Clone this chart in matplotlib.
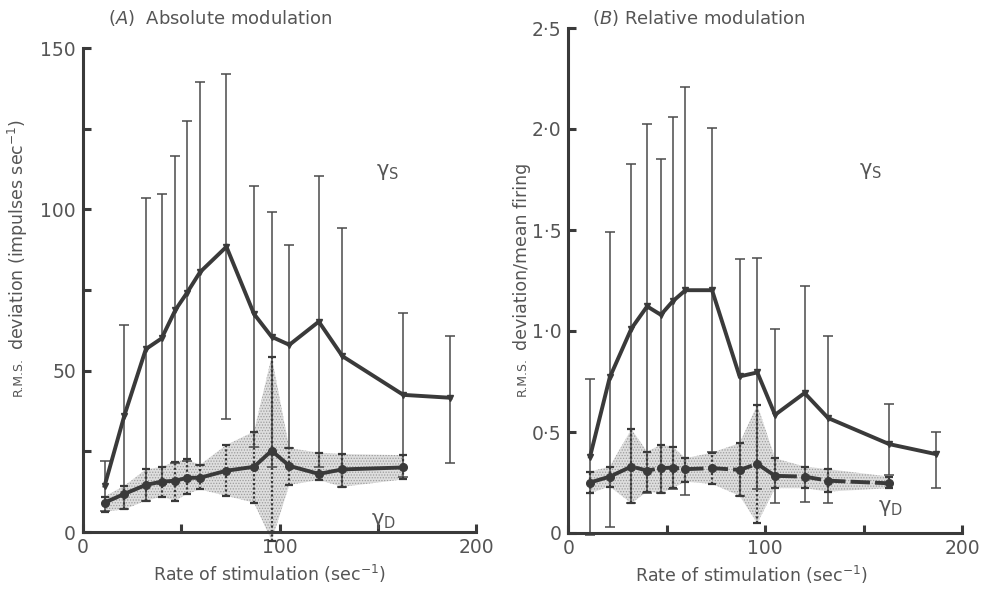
import numpy as np
import matplotlib

matplotlib.use("Agg")
import matplotlib.pyplot as plt
from matplotlib.ticker import FixedLocator

plt.rcParams["font.family"] = ["DejaVu Sans"]
plt.rcParams["mathtext.fontset"] = "dejavusans"
plt.rcParams["hatch.color"] = "#9c9c9c"
plt.rcParams["hatch.linewidth"] = 0.6

# stimulation rates (sec^-1), shared by both panels
rate = [11, 21, 32, 40, 47, 53, 59.5, 73, 87, 96, 105, 120, 132, 163, 187]
rate_d = rate[:14]

# (A) absolute modulation, impulses/sec
abs_s_mean = [14.3, 36, 56.7, 60, 68.8, 74.2, 80.5, 88.4, 67.6, 60.5, 58, 65.2, 54.5, 42.5, 41.6]
abs_s_upper = [22, 64, 103.4, 104.7, 116.6, 127.4, 139.5, 141.8, 107.2, 99.3, 89, 110.3, 94.1, 68, 60.7]
abs_s_lower = [6.6, 7, 9.7, 15, 21.3, 22, 20.8, 35, 26.2, 20.2, 26, 20, 14, 17, 21.5]
abs_d_mean = [9.1, 11.8, 14.6, 15.6, 15.9, 16.8, 16.8, 19, 20.2, 25.2, 20.5, 18, 19.4, 20]
abs_d_upper = [11, 14.3, 19.4, 20.2, 21.8, 22.5, 20.8, 27, 31.1, 54.3, 26, 24.6, 24.2, 23.8]
abs_d_lower = [6.3, 7, 9.7, 10.9, 9.7, 11.8, 13.2, 11.2, 9.1, -2.7, 14.6, 16.1, 14, 16.3]

# (B) relative modulation, r.m.s. deviation / mean firing
rel_s_mean = [0.378, 0.77, 1.012, 1.122, 1.08, 1.147, 1.202, 1.202, 0.775, 0.795, 0.585, 0.693, 0.569, 0.44, 0.39]
rel_s_upper = [0.762, 1.49, 1.829, 2.024, 1.85, 2.057, 2.21, 2.004, 1.354, 1.363, 1.01, 1.222, 0.974, 0.64, 0.50]
rel_s_lower = [-0.01, 0.031, 0.15, 0.20, 0.20, 0.22, 0.19, 0.40, 0.185, 0.217, 0.15, 0.155, 0.147, 0.288, 0.225]
rel_d_mean = [0.25, 0.279, 0.329, 0.309, 0.321, 0.324, 0.316, 0.321, 0.3125, 0.342, 0.283, 0.279, 0.259, 0.246]
rel_d_upper = [0.304, 0.329, 0.514, 0.403, 0.437, 0.428, 0.37, 0.398, 0.445, 0.635, 0.37, 0.329, 0.316, 0.279]
rel_d_lower = [0.197, 0.23, 0.147, 0.205, 0.197, 0.222, 0.254, 0.243, 0.184, 0.048, 0.222, 0.222, 0.205, 0.222]

INK = "#3a3a3a"
TEXT = "#555555"


def draw_panel(axe, s_mean, s_up, s_lo, d_mean, d_up, d_lo, d_dashes):
    """Draw the gamma-S curve with bars and the gamma-D curve with its shaded band."""
    s_mean, s_up, s_lo = map(np.asarray, (s_mean, s_up, s_lo))
    d_mean, d_up, d_lo = map(np.asarray, (d_mean, d_up, d_lo))

    # shaded spread of the gamma-D values
    axe.fill_between(rate_d, d_lo, d_up, facecolor="#dedede", edgecolor="none",
                     hatch="......", zorder=1, clip_on=False)

    # gamma-S: thin bars with caps
    err = axe.errorbar(rate, s_mean, yerr=[s_mean - s_lo, s_up - s_mean], fmt="none",
                       ecolor="#4a4a4a", elinewidth=1.1, capsize=3.5, capthick=1.1, zorder=2)
    for item in err.lines[1] + err.lines[2]:
        item.set_clip_on(False)
    axe.plot(rate, s_mean, color=INK, lw=2.8, marker="v", ms=5, zorder=4,
             solid_joinstyle="miter", clip_on=False)

    # gamma-D: dotted bars, dash caps
    err_d = axe.errorbar(rate_d, d_mean, yerr=[d_mean - d_lo, d_up - d_mean], fmt="none",
                         ecolor="#3a3a3a", elinewidth=1.6, capsize=3, capthick=1.6, zorder=3)
    for col in err_d.lines[2]:
        col.set_linestyle((0, (1, 1)))
        col.set_clip_on(False)
    for cap in err_d.lines[1]:
        cap.set_clip_on(False)
    line, = axe.plot(rate_d, d_mean, color=INK, lw=2.8, marker="o", ms=5.5, zorder=4,
                     clip_on=False)
    if d_dashes:
        line.set_dashes(d_dashes)


def style_axes(axe, ymax, ymajor, yminor, ylabels, xlabel_x):
    """Spines, ticks and tick labels in the journal style."""
    for side in ("top", "right"):
        axe.spines[side].set_visible(False)
    for side in ("left", "bottom"):
        axe.spines[side].set_linewidth(2.2)
        axe.spines[side].set_color(INK)
    axe.set_xlim(0, 200)
    axe.set_ylim(0, ymax)
    axe.set_xticks([0, 100, 200])
    axe.set_xticklabels(["0", "100", "200"])
    axe.xaxis.set_minor_locator(FixedLocator([50, 150]))
    axe.set_yticks(ymajor)
    axe.set_yticklabels(ylabels)
    axe.yaxis.set_minor_locator(FixedLocator(yminor))
    axe.tick_params(which="both", direction="in", length=6, width=2.2, color=INK,
                    labelsize=13.5, labelcolor=TEXT, pad=5)
    axe.tick_params(axis="x", pad=4)
    axe.set_xlabel("Rate of stimulation (sec$^{-1}$)", fontsize=12.5, color=TEXT, labelpad=5)
    axe.xaxis.set_label_coords(xlabel_x, -0.063 * 484 / (axe.get_position().height * 590))


fig = plt.figure(figsize=(9.83, 5.9), dpi=100)

ax_a = fig.add_axes([83 / 983, 58 / 590, 393 / 983, 484 / 590])
draw_panel(ax_a, abs_s_mean, abs_s_upper, abs_s_lower, abs_d_mean, abs_d_upper, abs_d_lower, None)
style_axes(ax_a, 150, [0, 50, 100, 150], [25, 75, 125], ["0", "50", "100", "150"], 0.475)
ax_a.text(155, 111.5, "γ$_{\\mathrm{S}}$", fontsize=15, color=TEXT, ha="center", va="center")
ax_a.text(153, 3.5, "γ$_{\\mathrm{D}}$", fontsize=15, color=TEXT, ha="center", va="center")

ax_b = fig.add_axes([568.4 / 983, 57 / 590, 393.6 / 983, 505 / 590])
draw_panel(ax_b, rel_s_mean, rel_s_upper, rel_s_lower, rel_d_mean, rel_d_upper, rel_d_lower, (5, 1.3))
style_axes(ax_b, 2.5, [0, 0.5, 1.0, 1.5, 2.0, 2.5], [],
           ["0", "0·5", "1·0", "1·5", "2·0", "2·5"], 0.465)
ax_b.text(153.4, 1.79, "γ$_{\\mathrm{S}}$", fontsize=15, color=TEXT, ha="center", va="center")
ax_b.text(163.5, 0.125, "γ$_{\\mathrm{D}}$", fontsize=15, color=TEXT, ha="center", va="center")

# panel titles
fig.text(108 / 983, 1 - 18 / 590, "($\\it{A}$)  Absolute modulation", fontsize=13,
         color=TEXT, va="center")
fig.text(592 / 983, 1 - 18 / 590, "($\\it{B}$) Relative modulation", fontsize=13,
         color=TEXT, va="center")

# y labels with small-capital "R.M.S."
fig.text(18 / 983, 1 - 396 / 590, "R.M.S.", fontsize=9, color=TEXT, rotation=90,
         ha="center", va="bottom")
fig.text(18 / 983, 1 - 350 / 590, "deviation (impulses sec$^{-1}$)", fontsize=12.5,
         color=TEXT, rotation=90, ha="center", va="bottom")
fig.text(522 / 983, 1 - 396 / 590, "R.M.S.", fontsize=9, color=TEXT, rotation=90,
         ha="center", va="bottom")
fig.text(522 / 983, 1 - 350 / 590, "deviation/mean firing", fontsize=12.5,
         color=TEXT, rotation=90, ha="center", va="bottom")

fig.savefig("out.png", dpi=100)
